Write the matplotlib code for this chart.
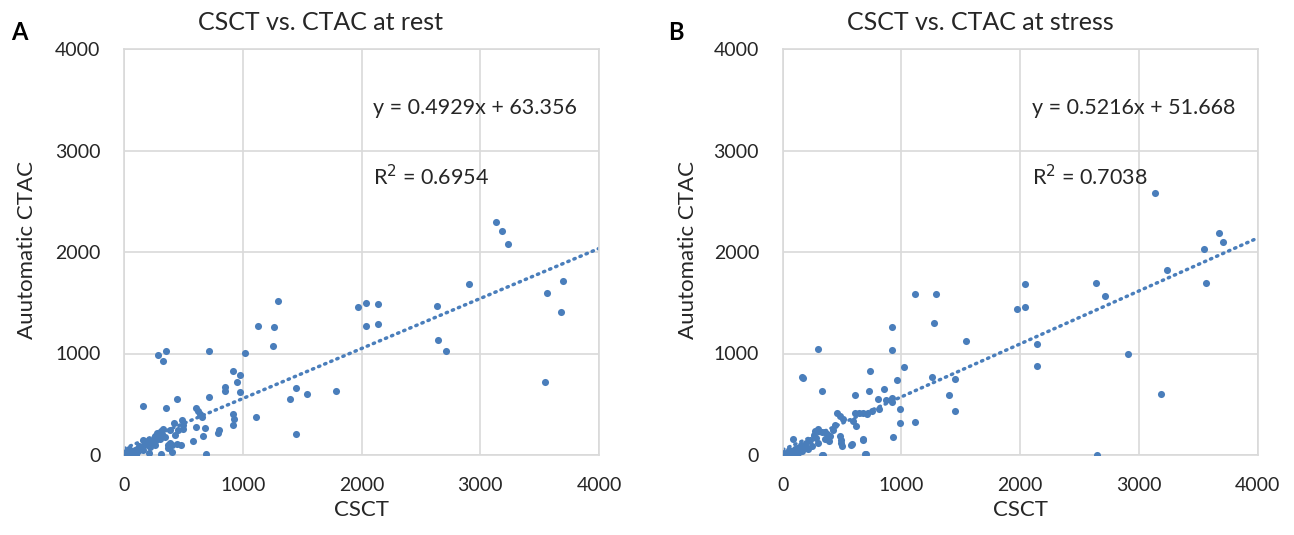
import matplotlib
matplotlib.use("Agg")
import matplotlib.pyplot as plt
import numpy as np

plt.rcParams["font.family"] = ["Lato", "DejaVu Sans"]

# ---- data ----
rest_csct = [
    1294, 1126, 1265, 1254, 1967, 2034, 2034, 2141, 2141, 289, 356, 328, 718, 1018,
    915, 979, 954, 850, 850, 979, 718, 446, 160, 356, 1450, 1400, 1540, 1787, 1108, 1450,
    610, 625, 640, 655, 915, 925, 915, 800, 795, 668, 578, 685, 606, 490, 495, 500, 424,
    390, 400, 450, 480, 400, 315, 693, 210,
    3129, 3182, 3235, 2907, 2635, 2646, 2713, 3701, 3561, 3676, 3547,
    457, 429, 387, 345, 289, 320, 300, 270, 250, 230, 205, 190, 170, 149, 130, 110, 93,
    70, 50, 37, 20, 10, 0, 30, 60, 80, 100, 120, 140, 160, 180, 200, 240, 260, 280, 310,
    330, 160, 100, 373, 373, 45, 15, 260, 220,
]
rest_ctac = [
    1517, 1274, 1258, 1074, 1458, 1500, 1274, 1488, 1290, 985, 1028, 923, 1028, 1002,
    831, 785, 719, 667, 634, 618, 571, 555, 480, 463, 663, 555, 601, 631, 374, 207,
    465, 430, 400, 370, 400, 350, 300, 250, 220, 190, 141, 269, 279, 345, 300, 260, 312,
    115, 95, 110, 100, 30, 10, 10, 23,
    2296, 2204, 2082, 1685, 1471, 1136, 1028, 1714, 1593, 1409, 722,
    246, 197, 246, 180, 197, 210, 160, 150, 170, 140, 131, 120, 100, 82, 90, 60, 49,
    40, 30, 16, 10, 0, 5, 0, 0, 10, 20, 40, 60, 150, 140, 100, 120, 190, 220, 240,
    260, 50, 0, 70, 100, 60, 30, 100, 80,
]

stress_csct = [
    920, 1271, 920, 295, 165, 170, 1543, 1972, 2040, 735, 1024, 960, 1259, 1453, 331,
    606, 724, 853, 800, 870, 920, 920, 1400, 1453, 985, 985, 1114, 931, 673, 578, 698,
    334, 620, 811, 1113, 1290,
    3131, 3678, 3706, 3549, 3563, 3235, 2637, 2716, 2040, 2143, 2143, 2909, 3184, 2648,
    455, 480, 510, 608, 640, 680, 707, 594, 749, 272, 300, 330, 356, 375, 400, 360, 390,
    485, 490, 495, 500, 581, 679, 693, 342, 89, 150, 180, 120, 100, 80, 60, 40, 20, 0,
    10, 30, 50, 70, 200, 230, 250, 260, 280, 210, 160, 130, 110, 300, 420, 440,
]
stress_ctac = [
    1257, 1303, 1031, 1047, 770, 755, 1123, 1440, 1457, 831, 864, 740, 772, 752, 635,
    589, 635, 651, 556, 540, 560, 520, 589, 438, 452, 314, 330, 180, 147, 101, 13,
    0, 285, 452, 1590, 1590,
    2580, 2184, 2095, 2033, 1699, 1820, 1699, 1562, 1683, 1090, 877, 998, 602, 0,
    418, 385, 353, 418, 410, 418, 403, 337, 435, 240, 258, 230, 222, 210, 185, 160, 140,
    190, 150, 120, 90, 108, 157, 10, 0, 157, 100, 80, 70, 60, 40, 30, 20, 10, 0,
    20, 0, 50, 5, 120, 150, 90, 200, 170, 60, 40, 20, 0, 120, 250, 300,
]

panels = [
    ("A", "CSCT vs. CTAC at rest", rest_csct, rest_ctac, 0.4929, 63.356, "0.6954"),
    ("B", "CSCT vs. CTAC at stress", stress_csct, stress_ctac, 0.5216, 51.668, "0.7038"),
]

BLUE = "#4a7ebb"
GRID = "#d9d9d9"
TXT = "#262626"

fig = plt.figure(figsize=(12.94, 5.35), dpi=100)
W, H = 1294, 535
axes_left = [124, 782.7]
letter_x = [19, 676]
title_x = [320, 980]
ylabel_x = [27, 688]

for i, (letter, title, xs, ys, slope, icpt, r2) in enumerate(panels):
    ax = fig.add_axes([axes_left[i] / W, (H - 455) / H, 475 / W, 406 / H])
    ax.scatter(xs, ys, s=26, color=BLUE, zorder=3, linewidths=0)
    xl = np.array([0, 4000])
    ax.plot(xl, slope * xl + icpt, color=BLUE, lw=2.5,
            linestyle=(0, (0.4, 1.5)), dash_capstyle="round", zorder=2)

    ax.set_xlim(0, 4000)
    ax.set_ylim(0, 4000)
    ticks = [0, 1000, 2000, 3000, 4000]
    ax.set_xticks(ticks)
    ax.set_yticks(ticks)
    ax.grid(True, color=GRID, lw=1.2)
    ax.set_axisbelow(True)
    for sp in ax.spines.values():
        sp.set_color(GRID)
        sp.set_linewidth(1.2)
    ax.tick_params(length=0, labelsize=14, colors=TXT)
    ax.tick_params(axis="x", pad=16)
    ax.tick_params(axis="y", pad=17)
    ax.set_xlabel("CSCT", fontsize=16, color=TXT, labelpad=4)

    fig.text(ylabel_x[i] / W, 1 - 250 / H, "Auutomatic CTAC", rotation=90,
             ha="center", va="center", fontsize=16, color=TXT)
    fig.text(title_x[i] / W, 1 - 23 / H, title, ha="center", va="center",
             fontsize=18, color=TXT)
    fig.text(letter_x[i] / W, 1 - 33 / H, letter, ha="center", va="center",
             fontsize=17, fontweight="bold", color="black")

    ax.text(2096, 3420, f"y = {slope}x + {icpt}", fontsize=15.5, color=TXT,
            va="center", ha="left")
    ax.text(2096, 2740, f"R$^2$ = {r2}", fontsize=15.5, color=TXT,
            va="center", ha="left")

fig.savefig("out.png", dpi=100)
